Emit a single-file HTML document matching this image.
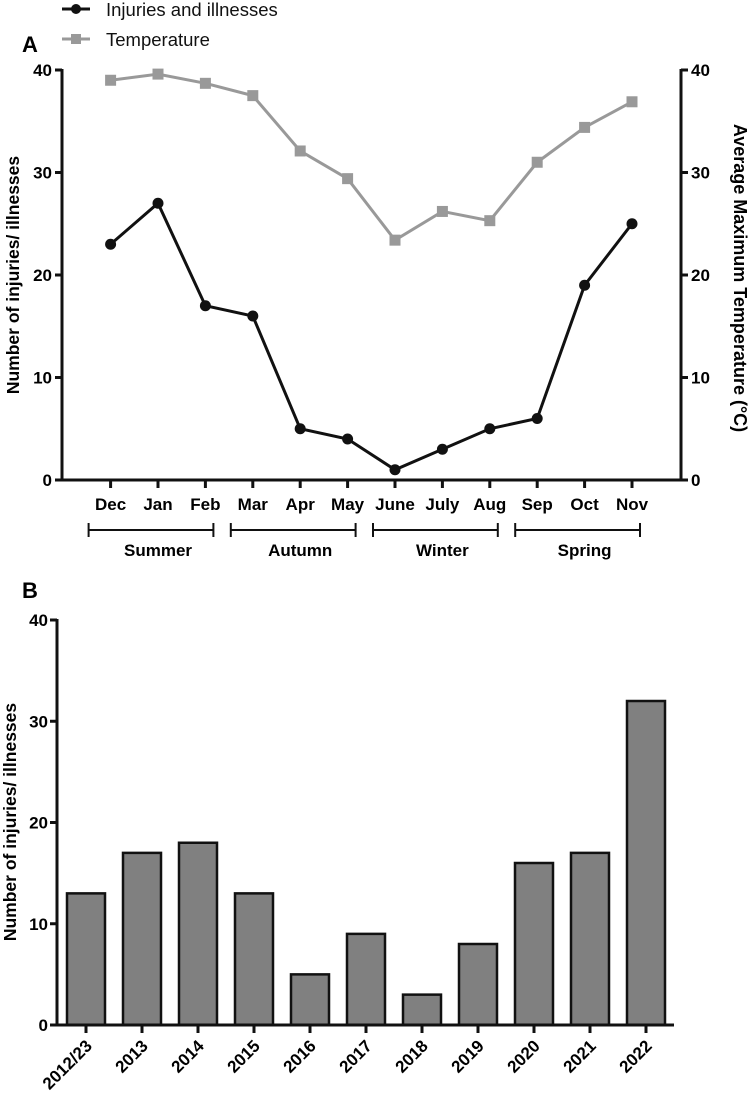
<!DOCTYPE html>
<html><head><meta charset="utf-8"><style>
body{margin:0;background:#fff;width:752px;height:1110px;overflow:hidden}
svg{font-family:"Liberation Sans",Arial,sans-serif}
</style></head><body>
<svg width="752" height="1110" id="chart">
<g id="panelA"></g>
<g id="panelB"></g>
</svg>
<script>
const months=["Dec","Jan","Feb","Mar","Apr","May","June","July","Aug","Sep","Oct","Nov"];
const injuries=[23,27,17,16,5,4,1,3,5,6,19,25];
const temperature=[39,39.6,38.7,37.5,32.1,29.4,23.4,26.2,25.3,31,34.4,36.9];
const yTicksA=[0,10,20,30,40];
const seasons=["Summer","Autumn","Winter","Spring"];
const years=["2012/23","2013","2014","2015","2016","2017","2018","2019","2020","2021","2022"];
const yearCounts=[13,17,18,13,5,9,3,8,16,17,32];
const yTicksB=[0,10,20,30,40];

const NS="http://www.w3.org/2000/svg";
function mk(parent,tag,attrs,text){const e=document.createElementNS(NS,tag);for(const k in attrs)e.setAttribute(k,attrs[k]);if(text!==undefined)e.textContent=text;parent.appendChild(e);return e;}

// Panel A
const A=document.getElementById('panelA');
const ax0=62,ax1=681,ay0=480,ay1=70;
const xA=i=>110.6+i*47.4;
const yA=v=>ay0-(v/40)*(ay0-ay1);
let t=mk(A,'text',{x:22,y:52,'font-size':22,'font-weight':'bold'},'A');

let lg=mk(A,'g',{});

mk(lg,'line',{x1:62,y1:9,x2:90,y2:9,stroke:'#111','stroke-width':3});
mk(lg,'circle',{cx:76,cy:9,r:5,fill:'#111'});
t=mk(lg,'text',{x:106,y:16,'font-size':18.5,fill:'#111'},'Injuries and illnesses');

mk(lg,'line',{x1:62,y1:39,x2:90,y2:39,stroke:'#999','stroke-width':3});
mk(lg,'rect',{x:71,y:34,width:10,height:10,fill:'#999'});
t=mk(lg,'text',{x:106,y:46,'font-size':18.5,fill:'#111'},'Temperature');

let axl=mk(A,'g',{});

mk(axl,'line',{x1:ax0,y1:ay1-1,x2:ax0,y2:ay0+1.5,stroke:'#111','stroke-width':3});
let axr=mk(A,'g',{});

mk(axr,'line',{x1:ax1,y1:ay1-1,x2:ax1,y2:ay0+1.5,stroke:'#111','stroke-width':3});
yTicksA.forEach(v=>{
 mk(axl,'line',{x1:ax0-7,y1:yA(v),x2:ax0,y2:yA(v),stroke:'#111','stroke-width':3});
 mk(axl,'text',{x:ax0-10,y:yA(v)+6,'font-size':17,'font-weight':'bold','text-anchor':'end'},v);
 mk(axr,'line',{x1:ax1,y1:yA(v),x2:ax1+7,y2:yA(v),stroke:'#111','stroke-width':3});
 mk(axr,'text',{x:ax1+10,y:yA(v)+6,'font-size':17,'font-weight':'bold'},v);
});
t=mk(A,'text',{x:0,y:0,'font-size':17.5,'font-weight':'bold','text-anchor':'middle',transform:'translate(19,275) rotate(-90)'},'Number of injuries/ illnesses');

t=mk(A,'text',{x:0,y:0,'font-size':18,'font-weight':'bold','text-anchor':'middle',transform:'translate(734,278) rotate(90)'},'Average Maximum Temperature (°C)');

let xa=mk(A,'g',{});

mk(xa,'line',{x1:ax0,y1:ay0,x2:ax1,y2:ay0,stroke:'#111','stroke-width':3});
months.forEach((m,i)=>{
 mk(xa,'line',{x1:xA(i),y1:ay0,x2:xA(i),y2:ay0+8,stroke:'#111','stroke-width':3});
 mk(xa,'text',{x:xA(i),y:ay0+30,'font-size':17,'font-weight':'bold','text-anchor':'middle'},m);
});
seasons.forEach((s,k)=>{
 const g=mk(A,'g',{});
 
 const a=xA(3*k)-22,b=xA(3*k+2)+8;
 mk(g,'line',{x1:a,y1:530,x2:b,y2:530,stroke:'#111','stroke-width':2});
 mk(g,'line',{x1:a,y1:523,x2:a,y2:537,stroke:'#111','stroke-width':2});
 mk(g,'line',{x1:b,y1:523,x2:b,y2:537,stroke:'#111','stroke-width':2});
 mk(g,'text',{x:xA(3*k+1),y:556,'font-size':17,'font-weight':'bold','text-anchor':'middle'},s);
});
let tg=mk(A,'g',{});

mk(tg,'polyline',{points:temperature.map((v,i)=>xA(i)+','+yA(v)).join(' '),fill:'none',stroke:'#999','stroke-width':3});
temperature.forEach((v,i)=>{
 const r=mk(tg,'rect',{x:xA(i)-5.5,y:yA(v)-5.5,width:11,height:11,fill:'#999'});
 
});
let ig=mk(A,'g',{});

mk(ig,'polyline',{points:injuries.map((v,i)=>xA(i)+','+yA(v)).join(' '),fill:'none',stroke:'#111','stroke-width':3});
injuries.forEach((v,i)=>{
 const c=mk(ig,'circle',{cx:xA(i),cy:yA(v),r:5.5,fill:'#111'});
 
});

// Panel B
const B=document.getElementById('panelB');
const bx0=57,by0=1025,by1=620;
const xB=i=>86+i*56;
const yB=v=>by0-(v/40)*(by0-by1);
t=mk(B,'text',{x:22,y:598,'font-size':22,'font-weight':'bold'},'B');

yearCounts.forEach((v,i)=>{
 const r=mk(B,'rect',{x:xB(i)-19,y:yB(v),width:38,height:by0-yB(v),fill:'#808080',stroke:'#111','stroke-width':2.5});
 
});
let bya=mk(B,'g',{});

mk(bya,'line',{x1:bx0,y1:by1-1,x2:bx0,y2:by0+1.5,stroke:'#111','stroke-width':3});
yTicksB.forEach(v=>{
 mk(bya,'line',{x1:bx0-7,y1:yB(v),x2:bx0,y2:yB(v),stroke:'#111','stroke-width':3});
 mk(bya,'text',{x:bx0-9,y:yB(v)+6,'font-size':17,'font-weight':'bold','text-anchor':'end'},v);
});
t=mk(B,'text',{x:0,y:0,'font-size':17.5,'font-weight':'bold','text-anchor':'middle',transform:'translate(16,822) rotate(-90)'},'Number of injuries/ illnesses');

let bxa=mk(B,'g',{});

mk(bxa,'line',{x1:bx0,y1:by0,x2:xB(years.length-1)+28,y2:by0,stroke:'#111','stroke-width':3});
years.forEach((y,i)=>{
 mk(bxa,'line',{x1:xB(i),y1:by0,x2:xB(i),y2:by0+8,stroke:'#111','stroke-width':3});
 mk(bxa,'text',{x:0,y:0,'font-size':17,'font-weight':'bold','text-anchor':'end',transform:`translate(${xB(i)+7},${by0+22}) rotate(-45)`},y);
});
</script>
</body></html>
